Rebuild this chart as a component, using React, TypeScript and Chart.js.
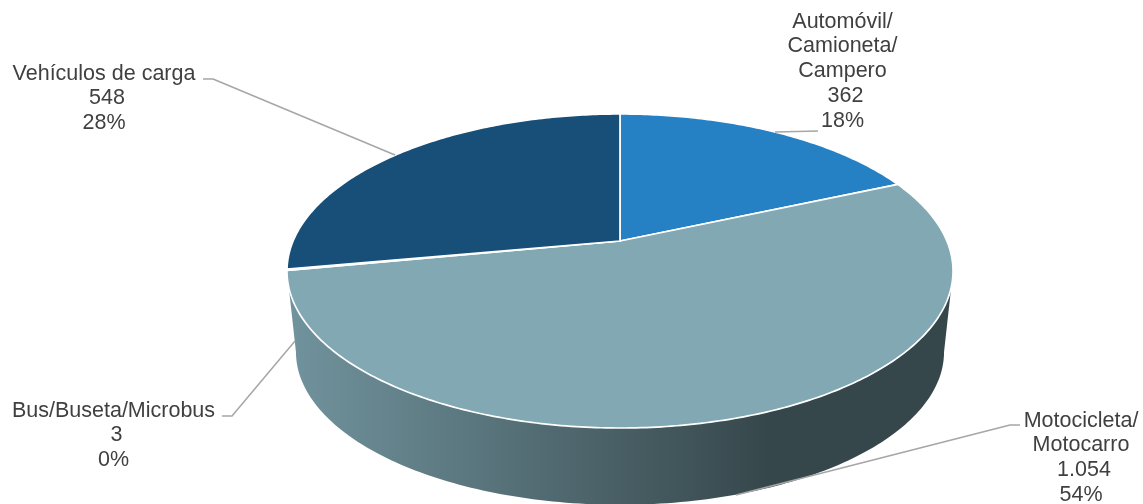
import React, { useEffect, useRef } from "react";
import { Chart, registerables } from "chart.js";

Chart.register(...registerables);

const categories = ["Automóvil/Camioneta/Campero", "Motocicleta/Motocarro", "Bus/Buseta/Microbus", "Vehículos de carga"];
const values = [362, 1054, 3, 548];
const colors = ["#2580C4", "#81A8B3", "#A5A5A5", "#174F78"];
const labelLines = [
  ["Automóvil/", "Camioneta/", "Campero", " 362", "18%"],
  ["Motocicleta/", "Motocarro", " 1.054", "54%"],
  ["Bus/Buseta/Microbus", " 3", "0%"],
  ["Vehículos de carga", " 548", "28%"],
];

// Layout of the labels and leader lines: [centre x, first baseline]
const labelAnchors = [[842.5, 27.5], [1081, 426.5], [113.5, 416.5], [104, 79.5]];
const leaders = [
  [[818, 131], [775, 132]],
  [[1020, 425], [1010, 425], [736, 495]],
  [[222, 416], [232, 416], [295, 341]],
  [[203, 79], [213, 79], [395, 155]],
];

// Perspective of the tilted disc
const CX = 620, CY = 241, A = 326.9, B = 151.3, K = 0.191;
const RIM_CY = 271, LOW_CY = 352, LOW_SCALE = 0.973;

function project(theta: number): [number, number] {
  const u = Math.sin(theta);
  const v = -Math.cos(theta);
  const w = 1 - K * v;
  return [CX + (A * u) / w, CY + (B * v) / w];
}
function lower(theta: number): [number, number] {
  const [x, y] = project(theta);
  return [CX + (x - CX) * LOW_SCALE, LOW_CY + (y - RIM_CY) * LOW_SCALE];
}
function shade(hex: string, f: number) {
  const n = parseInt(hex.slice(1), 16);
  const c = [(n >> 16) & 255, (n >> 8) & 255, n & 255].map((q) => Math.round(q * f));
  return `rgb(${c[0]},${c[1]},${c[2]})`;
}

const disc3d = {
  id: "disc3d",
  beforeDatasetsDraw(chart: any) {
    const ctx: CanvasRenderingContext2D = chart.ctx;
    const arcs = chart.getDatasetMeta(0).data;
    const frontStart = Math.acos(-K);
    const frontEnd = 2 * Math.PI - frontStart;
    ctx.save();
    ctx.lineJoin = "round";

    arcs.forEach((arc: any, i: number) => {
      const a = Math.max(arc.startAngle + Math.PI / 2, frontStart);
      const b = Math.min(arc.endAngle + Math.PI / 2, frontEnd);
      if (b <= a) return;
      const g = ctx.createLinearGradient(296, 0, 770, 0);
      g.addColorStop(0, shade(colors[i], 0.87));
      g.addColorStop(1, shade(colors[i], 0.42));
      ctx.beginPath();
      const n = 160;
      for (let s = 0; s <= n; s++) {
        const [x, y] = project(a + ((b - a) * s) / n);
        if (s === 0) ctx.moveTo(x, y);
        else ctx.lineTo(x, y);
      }
      for (let s = n; s >= 0; s--) {
        const [x, y] = lower(a + ((b - a) * s) / n);
        ctx.lineTo(x, y);
      }
      ctx.closePath();
      ctx.fillStyle = g;
      ctx.fill();
    });

    arcs.forEach((arc: any, i: number) => {
      const a = arc.startAngle + Math.PI / 2;
      const b = arc.endAngle + Math.PI / 2;
      ctx.beginPath();
      ctx.moveTo(CX, CY);
      const n = Math.max(2, Math.ceil((b - a) * 80));
      for (let s = 0; s <= n; s++) {
        const [x, y] = project(a + ((b - a) * s) / n);
        ctx.lineTo(x, y);
      }
      ctx.closePath();
      ctx.fillStyle = colors[i];
      ctx.fill();
      ctx.strokeStyle = "#FFFFFF";
      ctx.lineWidth = 1.7;
      ctx.stroke();
    });

    ctx.strokeStyle = "#A6A6A6";
    ctx.lineWidth = 1.5;
    leaders.forEach((pts) => {
      ctx.beginPath();
      pts.forEach(([x, y], j) => (j === 0 ? ctx.moveTo(x, y) : ctx.lineTo(x, y)));
      ctx.stroke();
    });

    ctx.fillStyle = "#404040";
    ctx.font = '21.5px "Liberation Sans", Arial, sans-serif';
    ctx.textAlign = "center";
    ctx.textBaseline = "alphabetic";
    labelLines.forEach((lines, i) => {
      lines.forEach((t, j) => {
        ctx.fillText(t, labelAnchors[i][0], labelAnchors[i][1] + j * 24.9);
      });
    });
    ctx.restore();
    return false;
  },
};

export default function App() {
  const ref = useRef<HTMLCanvasElement>(null);
  useEffect(() => {
    document.body.style.margin = "0";
    document.body.style.background = "#FFFFFF";
    const chart = new Chart(ref.current as HTMLCanvasElement, {
      type: "pie",
      data: {
        labels: categories,
        datasets: [{ data: values, backgroundColor: colors, borderColor: "#FFFFFF", borderWidth: 1 }],
      },
      options: {
        animation: false,
        responsive: false,
        devicePixelRatio: 1,
        plugins: { legend: { display: false }, tooltip: { enabled: false } },
      },
      plugins: [disc3d],
    } as any);
    return () => chart.destroy();
  }, []);
  return <canvas ref={ref} width={1143} height={504} style={{ display: "block" }} />;
}
